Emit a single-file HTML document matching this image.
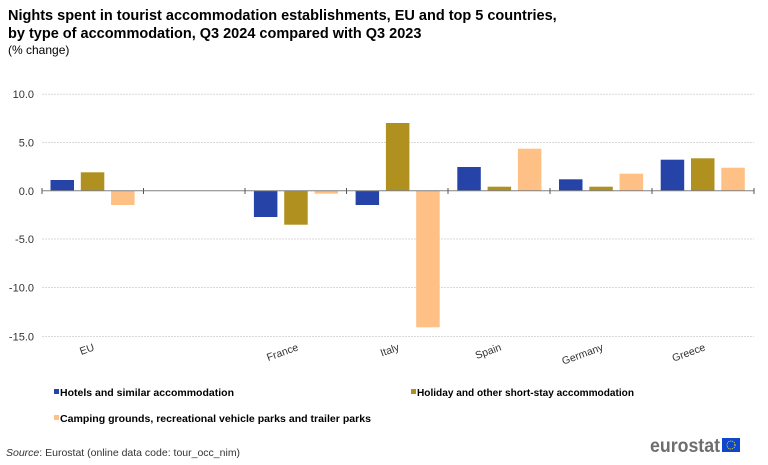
<!DOCTYPE html>
<html><head><meta charset="utf-8"><style>
html,body{margin:0;padding:0;background:#fff;}
svg{display:block;font-family:"Liberation Sans",sans-serif;}
</style></head><body>
<svg width="768" height="465" viewBox="0 0 768 465" xmlns="http://www.w3.org/2000/svg">
<text x="8" y="20" font-size="14.5" font-weight="bold" fill="#000">Nights spent in tourist accommodation establishments, EU and top 5 countries,</text>
<text x="8" y="38" font-size="14.5" font-weight="bold" fill="#000">by type of accommodation, Q3 2024 compared with Q3 2023</text>
<text x="8" y="54" font-size="12" fill="#000">(% change)</text>
<g stroke="#d9d9d9" stroke-width="1" stroke-dasharray="2,1">
<line x1="42" x2="754" y1="94.3" y2="94.3"/>
<line x1="42" x2="754" y1="142.5" y2="142.5"/>
<line x1="42" x2="754" y1="239" y2="239"/>
<line x1="42" x2="754" y1="287.5" y2="287.5"/>
<line x1="42" x2="754" y1="336.5" y2="336.5"/>
</g>
<g font-size="11" fill="#333" text-anchor="end">
<text x="34" y="98">10.0</text>
<text x="34" y="146.5">5.0</text>
<text x="34" y="195">0.0</text>
<text x="34" y="243">-5.0</text>
<text x="34" y="291.5">-10.0</text>
<text x="34" y="340.5">-15.0</text>
</g>
<g>
<rect x="50.5" y="180.0" width="23.5" height="10.7" fill="#2644a7"/>
<rect x="80.8" y="172.3" width="23.5" height="18.4" fill="#b09120"/>
<rect x="111.1" y="190.7" width="23.5" height="14.3" fill="#ffc085"/>

<rect x="253.9" y="190.7" width="23.5" height="26.3" fill="#2644a7"/>
<rect x="284.2" y="190.7" width="23.5" height="34" fill="#b09120"/>
<rect x="314.5" y="190.7" width="23.5" height="3" fill="#ffc085"/>

<rect x="355.6" y="190.7" width="23.5" height="14.3" fill="#2644a7"/>
<rect x="385.9" y="123" width="23.5" height="67.7" fill="#b09120"/>
<rect x="416.2" y="190.7" width="23.5" height="136.6" fill="#ffc085"/>

<rect x="457.3" y="167" width="23.5" height="23.7" fill="#2644a7"/>
<rect x="487.6" y="186.7" width="23.5" height="4" fill="#b09120"/>
<rect x="517.9" y="148.7" width="23.5" height="42" fill="#ffc085"/>

<rect x="559" y="179.3" width="23.5" height="11.4" fill="#2644a7"/>
<rect x="589.3" y="186.7" width="23.5" height="4" fill="#b09120"/>
<rect x="619.6" y="173.7" width="23.5" height="17" fill="#ffc085"/>

<rect x="660.7" y="159.7" width="23.5" height="31" fill="#2644a7"/>
<rect x="691" y="158.3" width="23.5" height="32.4" fill="#b09120"/>
<rect x="721.3" y="167.7" width="23.5" height="23" fill="#ffc085"/>
</g>
<line x1="42" x2="754" y1="190.7" y2="190.7" stroke="#808080" stroke-width="1"/>
<g stroke="#555" stroke-width="1">
<line x1="42" x2="42" y1="188" y2="194"/>
<line x1="143.5" x2="143.5" y1="188" y2="194"/>
<line x1="245" x2="245" y1="188" y2="194"/>
<line x1="346.5" x2="346.5" y1="188" y2="194"/>
<line x1="448" x2="448" y1="188" y2="194"/>
<line x1="550" x2="550" y1="188" y2="194"/>
<line x1="652" x2="652" y1="188" y2="194"/>
<line x1="754" x2="754" y1="188" y2="194"/>
</g>
<g font-size="10.5" fill="#333" text-anchor="end">
<text transform="translate(95,350) rotate(-20)">EU</text>
<text transform="translate(299,350) rotate(-20)">France</text>
<text transform="translate(400,350) rotate(-20)">Italy</text>
<text transform="translate(502,350) rotate(-20)">Spain</text>
<text transform="translate(604,350) rotate(-20)">Germany</text>
<text transform="translate(706,350) rotate(-20)">Greece</text>
</g>
<g font-size="10" font-weight="bold" fill="#000">
<rect x="54" y="389" width="5" height="5" fill="#2644a7"/>
<text x="60" y="396" textLength="174" lengthAdjust="spacingAndGlyphs">Hotels and similar accommodation</text>
<rect x="411" y="389" width="5" height="5" fill="#b09120"/>
<text x="417" y="396" textLength="217" lengthAdjust="spacingAndGlyphs">Holiday and other short-stay accommodation</text>
<rect x="54" y="415" width="5" height="5" fill="#ffc085"/>
<text x="60" y="422" textLength="311" lengthAdjust="spacingAndGlyphs">Camping grounds, recreational vehicle parks and trailer parks</text>
</g>
<text x="6" y="456" font-size="10.5" fill="#333"><tspan font-style="italic">Source</tspan>: Eurostat (online data code: tour_occ_nim)</text>
<text x="650" y="452" font-size="19" font-weight="bold" fill="#6d6e70" textLength="70" lengthAdjust="spacingAndGlyphs">eurostat</text>
<rect x="722" y="438" width="18" height="14" fill="#0e47cb"/>
<circle cx="731" cy="445" r="4" fill="none" stroke="#ffdd00" stroke-width="1" stroke-dasharray="1,1"/>
</svg>
</body></html>
